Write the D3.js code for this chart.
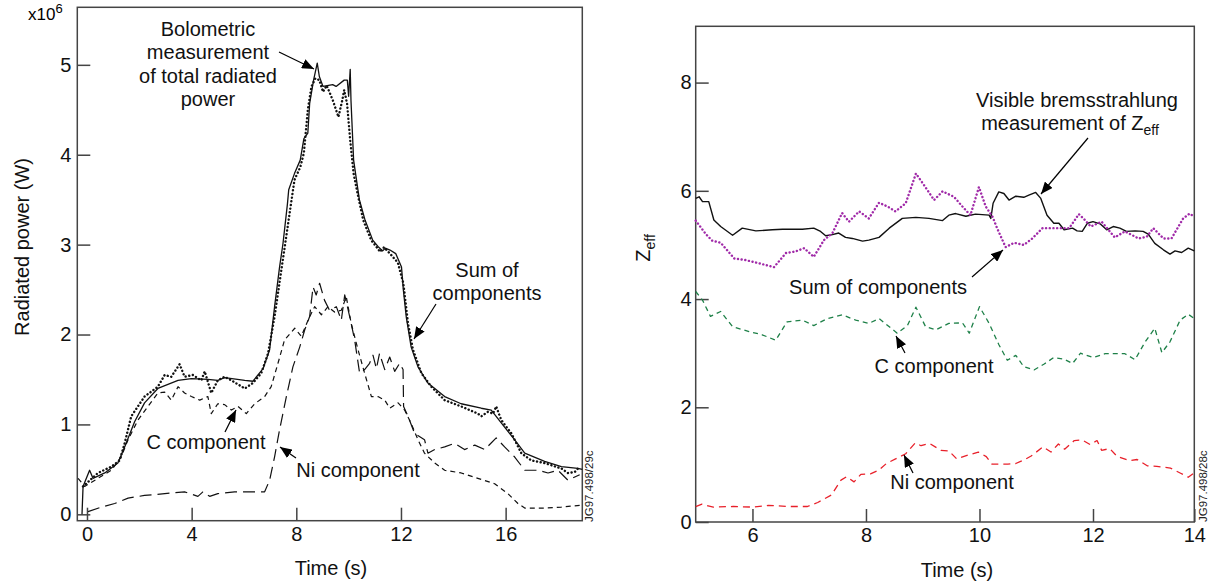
<!doctype html>
<html lang="en">
<head>
	<meta charset="UTF-8">
	<title>Radiated power and Zeff</title>
	<style>
		body { margin: 0; background: #fff; }
		svg { display: block; font-family: "Liberation Sans", Arial, sans-serif; }
		.tick text { font-size: 20px; fill: #111; }
		.tick line { stroke: #444; stroke-width: 1.5; }
		.lbl { font-size: 20px; fill: #111; }
	</style>
</head>
<body>
	<script src="https://cdn.jsdelivr.net/npm/d3@7/dist/d3.min.js"></script>
	<script>
		// ---- left panel: radiated power (x10^6 W) vs time (s)
		var bolometric = [[-0.19,0.0],[-0.15,0.31],[0.1,0.49],[0.23,0.40],[0.68,0.46],[1.18,0.57],[1.44,0.75],[1.82,1.03],[2.2,1.24],[2.71,1.40],[3.48,1.49],[3.99,1.51],[4.62,1.50],[5.0,1.49],[5.26,1.52],[6.03,1.49],[6.34,1.48],[6.73,1.62],[6.98,1.83],[7.17,2.31],[7.36,2.75],[7.49,3.01],[7.66,3.45],[7.71,3.61],[7.93,3.79],[8.15,3.94],[8.29,4.18],[8.44,4.24],[8.51,4.57],[8.66,4.83],[8.8,5.02],[8.88,4.87],[9.02,4.76],[9.39,4.78],[9.52,4.76],[9.83,4.83],[9.95,4.83],[10.0,4.65],[10.06,4.95],[10.09,4.6],[10.19,3.94],[10.34,3.64],[10.41,3.5],[10.63,3.27],[10.92,3.05],[11.12,2.98],[11.3,2.93],[11.4,2.96],[11.58,2.94],[11.8,2.90],[12.02,2.75],[12.09,2.5],[12.2,2.2],[12.39,1.86],[12.65,1.64],[13.03,1.46],[13.67,1.31],[14.3,1.23],[15.07,1.18],[15.45,1.16],[15.96,0.97],[16.34,0.83],[16.73,0.68],[17.49,0.59],[18.13,0.53],[18.76,0.51],[18.93,0.5]];
		var sumPower = [[-0.15,0.31],[0.42,0.46],[0.93,0.53],[1.25,0.6],[1.44,0.79],[1.69,1.09],[2.2,1.31],[2.71,1.42],[2.97,1.55],[3.22,1.53],[3.54,1.67],[3.73,1.53],[4.05,1.55],[4.37,1.49],[4.5,1.59],[4.75,1.35],[5.0,1.49],[5.26,1.53],[5.52,1.49],[6.03,1.40],[6.34,1.46],[6.66,1.57],[6.92,1.79],[7.17,2.2],[7.43,2.72],[7.56,2.98],[7.93,3.72],[8.15,3.86],[8.29,4.02],[8.44,4.5],[8.58,4.76],[8.73,4.85],[8.88,4.83],[9.02,4.70],[9.16,4.77],[9.39,4.61],[9.61,4.42],[9.76,4.61],[9.83,4.72],[9.94,4.57],[10.06,4.16],[10.19,3.79],[10.34,3.57],[10.56,3.27],[10.86,3.05],[11.05,2.98],[11.2,2.92],[11.35,2.97],[11.58,2.90],[11.88,2.8],[12.09,2.57],[12.14,2.45],[12.27,2.12],[12.46,1.83],[12.78,1.57],[13.16,1.42],[13.67,1.27],[14.3,1.2],[14.94,1.12],[15.07,1.09],[15.32,1.14],[15.52,1.12],[15.64,1.2],[15.83,1.05],[16.22,0.9],[16.6,0.68],[16.98,0.6],[17.49,0.57],[18.13,0.51],[18.38,0.46],[18.64,0.47],[18.83,0.53]];
		var cPower = [[-0.34,0.40],[-0.09,0.31],[0.42,0.40],[0.93,0.49],[1.31,0.64],[1.57,0.83],[1.95,1.05],[2.33,1.20],[2.71,1.35],[2.97,1.36],[3.22,1.27],[3.48,1.42],[3.73,1.35],[3.99,1.31],[4.31,1.27],[4.62,1.31],[4.75,1.12],[5.0,1.23],[5.26,1.22],[5.52,1.16],[5.77,1.2],[6.09,1.12],[6.41,1.23],[6.79,1.31],[7.04,1.42],[7.3,1.68],[7.55,1.94],[7.94,2.07],[8.19,1.98],[8.45,2.16],[8.7,2.31],[8.96,2.22],[9.21,2.31],[9.46,2.25],[9.72,2.27],[9.91,2.42],[10.1,2.12],[10.36,1.83],[10.61,1.57],[10.87,1.31],[11.12,1.31],[11.38,1.27],[11.57,1.18],[11.89,1.24],[12.14,1.16],[12.39,1.01],[12.65,0.83],[12.9,0.68],[13.29,0.57],[13.67,0.49],[14.3,0.46],[14.94,0.40],[15.58,0.34],[16.09,0.23],[16.47,0.12],[16.73,0.07],[17.49,0.07],[18.13,0.08],[18.83,0.10]];
		var niPower = [[0.04,0.03],[0.55,0.08],[1.06,0.12],[1.57,0.18],[2.2,0.21],[2.97,0.23],[3.73,0.25],[4.24,0.20],[4.43,0.25],[4.69,0.20],[5.0,0.23],[5.64,0.25],[6.28,0.25],[6.79,0.25],[6.98,0.38],[7.17,0.64],[7.36,0.94],[7.62,1.31],[7.87,1.64],[8.13,1.86],[8.32,2.05],[8.51,2.2],[8.64,2.53],[8.76,2.44],[8.89,2.57],[9.08,2.38],[9.27,2.27],[9.53,2.31],[9.72,2.16],[9.85,2.44],[10.04,2.2],[10.23,1.94],[10.42,1.57],[10.61,1.61],[10.8,1.68],[10.93,1.77],[11.06,1.62],[11.18,1.79],[11.38,1.61],[11.57,1.75],[11.76,1.59],[11.95,1.68],[12.08,1.61],[12.1,1.2],[12.27,1.09],[12.52,0.9],[12.9,0.83],[13.03,0.68],[13.29,0.72],[13.67,0.75],[14.05,0.79],[14.43,0.72],[14.82,0.77],[15.2,0.72],[15.64,0.85],[15.96,0.75],[16.34,0.64],[16.73,0.49],[17.24,0.49],[17.62,0.46],[18.0,0.49],[18.38,0.38],[18.83,0.44]];
		var powerXTicks = [0, 4, 8, 12, 16];
		var powerYTicks = [0, 1, 2, 3, 4, 5];

		// ---- right panel: Zeff vs time (s)
		var zeffBrems = [[5.0,5.86],[5.06,5.89],[5.12,5.80],[5.23,5.80],[5.32,5.46],[5.44,5.34],[5.65,5.18],[5.82,5.31],[6.06,5.26],[6.35,5.28],[6.53,5.29],[6.88,5.29],[7.08,5.31],[7.2,5.25],[7.29,5.17],[7.41,5.19],[7.52,5.22],[7.64,5.14],[7.76,5.12],[7.94,5.07],[8.05,5.09],[8.23,5.14],[8.41,5.31],[8.64,5.49],[8.88,5.51],[9.11,5.49],[9.35,5.45],[9.46,5.55],[9.58,5.58],[9.76,5.53],[9.93,5.57],[10.17,5.55],[10.2,5.49],[10.24,5.77],[10.34,5.98],[10.43,5.95],[10.52,5.83],[10.64,5.90],[10.78,5.88],[10.87,5.92],[10.99,5.97],[11.08,5.86],[11.19,5.55],[11.31,5.40],[11.4,5.40],[11.49,5.28],[11.64,5.31],[11.72,5.26],[11.81,5.25],[11.9,5.40],[12.0,5.43],[12.14,5.39],[12.27,5.28],[12.4,5.34],[12.53,5.31],[12.66,5.25],[12.83,5.26],[12.99,5.25],[13.09,5.20],[13.22,5.03],[13.39,4.91],[13.52,4.83],[13.62,4.89],[13.75,4.86],[13.88,4.94],[14.0,4.89]];
		var zeffSum = [[5.0,5.45],[5.18,5.20],[5.29,5.08],[5.44,5.04],[5.68,4.75],[5.88,4.72],[6.12,4.66],[6.38,4.59],[6.59,4.85],[6.76,4.88],[6.91,4.94],[7.08,4.78],[7.26,5.09],[7.41,5.22],[7.58,5.59],[7.7,5.43],[7.88,5.62],[8.05,5.49],[8.23,5.78],[8.38,5.71],[8.52,5.62],[8.7,5.77],[8.88,6.32],[9.02,6.11],[9.2,5.83],[9.35,5.99],[9.55,5.89],[9.7,5.71],[9.84,5.55],[9.99,6.07],[10.11,5.71],[10.23,5.52],[10.31,5.31],[10.46,4.96],[10.61,5.04],[10.78,5.00],[10.93,5.12],[11.11,5.31],[11.34,5.31],[11.58,5.31],[11.66,5.43],[11.75,5.57],[11.84,5.48],[11.96,5.34],[12.17,5.43],[12.43,5.14],[12.63,5.25],[12.9,5.12],[13.06,5.15],[13.19,5.31],[13.39,5.12],[13.55,5.12],[13.78,5.49],[13.91,5.58],[14.0,5.52]];
		var zeffC = [[5.0,4.14],[5.12,3.98],[5.26,3.68],[5.44,3.77],[5.65,3.49],[5.94,3.40],[6.17,3.34],[6.41,3.24],[6.61,3.58],[6.88,3.61],[7.08,3.51],[7.32,3.64],[7.58,3.71],[7.82,3.61],[8.05,3.55],[8.23,3.64],[8.55,3.37],[8.73,3.51],[8.88,3.85],[9.05,3.49],[9.23,3.43],[9.46,3.55],[9.7,3.56],[9.82,3.37],[10.0,3.86],[10.17,3.55],[10.34,3.16],[10.49,2.87],[10.64,2.96],[10.78,2.75],[10.96,2.69],[11.14,2.80],[11.31,2.92],[11.49,2.89],[11.64,2.81],[11.78,3.0],[12.0,2.92],[12.24,2.99],[12.63,2.99],[12.83,2.88],[13.03,3.21],[13.22,3.46],[13.36,3.01],[13.52,3.21],[13.72,3.61],[13.88,3.72],[14.0,3.64]];
		var zeffNi = [[5.0,0.27],[5.11,0.31],[5.31,0.26],[5.66,0.27],[6.01,0.26],[6.28,0.29],[6.63,0.27],[6.97,0.27],[7.15,0.34],[7.39,0.47],[7.56,0.73],[7.66,0.79],[7.79,0.70],[7.91,0.83],[8.08,0.84],[8.22,0.90],[8.36,1.02],[8.56,1.12],[8.7,1.19],[8.87,1.38],[8.97,1.33],[9.12,1.37],[9.32,1.25],[9.46,1.24],[9.6,1.10],[9.81,1.17],[9.98,1.22],[10.12,1.14],[10.22,1.01],[10.5,1.01],[10.64,1.02],[10.78,1.08],[10.91,1.15],[11.12,1.31],[11.26,1.22],[11.39,1.36],[11.5,1.27],[11.67,1.42],[11.81,1.43],[11.95,1.35],[12.08,1.42],[12.17,1.25],[12.33,1.28],[12.48,1.14],[12.72,1.07],[12.87,1.09],[13.07,0.98],[13.26,0.97],[13.53,0.94],[13.73,0.85],[13.88,0.78],[14.0,0.86]];
		var zeffXTicks = [6, 8, 10, 12, 14];
		var zeffYTicks = [0, 2, 4, 6, 8];

		var W = 1214, H = 586;
		var svg = d3.select('body').append('svg')
			.attr('width', W)
			.attr('height', H);

		svg.append('defs').append('marker')
			.attr('id', 'head')
			.attr('markerUnits', 'userSpaceOnUse')
			.attr('viewBox', '0 0 12 10')
			.attr('refX', 12).attr('refY', 5)
			.attr('markerWidth', 12).attr('markerHeight', 10)
			.attr('orient', 'auto')
			.append('path')
			.attr('d', 'M0,0L12,5L0,10z')
			.attr('fill', '#000');

		// draws frame, axes and returns the group
		function panel(x, y, xTicks, yTicks, xPad, yPad) {
			var g = svg.append('g');
			var x0 = x.range()[0], x1 = x.range()[x.range().length - 1];
			var y0 = y.range()[y.range().length - 1], y1 = y.range()[0];
			var fmt = d3.format('d');

			g.append('g')
				.attr('transform', 'translate(0,' + y1 + ')')
				.call(d3.axisBottom(x).tickValues(xTicks).tickFormat(fmt).tickSize(-13).tickPadding(xPad))
				.call(function(a) { a.select('.domain').remove(); });
			g.append('g')
				.attr('transform', 'translate(' + x0 + ',0)')
				.call(d3.axisLeft(y).tickValues(yTicks).tickFormat(fmt).tickSize(-13).tickPadding(yPad))
				.call(function(a) { a.select('.domain').remove(); });

			g.append('rect')
				.attr('x', x0).attr('y', y0)
				.attr('width', x1 - x0).attr('height', y1 - y0)
				.attr('fill', 'none')
				.attr('stroke', '#444')
				.attr('stroke-width', 1.5);
			return g;
		}

		function series(g, data, x, y, stroke, width, dash, cap) {
			var line = d3.line()
				.x(function(d) { return x(d[0]); })
				.y(function(d) { return y(d[1]); });
			g.append('path')
				.datum(data)
				.attr('d', line)
				.attr('fill', 'none')
				.attr('stroke', stroke)
				.attr('stroke-width', width)
				.attr('stroke-dasharray', dash)
				.attr('stroke-linecap', cap || 'butt')
				.attr('stroke-linejoin', 'round');
		}

		function label(lines, cx, baseline, step) {
			var t = svg.append('text')
				.attr('class', 'lbl')
				.attr('text-anchor', 'middle');
			lines.forEach(function(s, i) {
				t.append('tspan').attr('x', cx).attr('y', baseline + i * step).text(s);
			});
			return t;
		}

		function arrow(a, b) {
			svg.append('line')
				.attr('x1', a[0]).attr('y1', a[1])
				.attr('x2', b[0]).attr('y2', b[1])
				.attr('stroke', '#000')
				.attr('stroke-width', 1.2)
				.attr('marker-end', 'url(#head)');
		}

		// ---- left panel
		var xP = d3.scaleLinear().domain([-0.37, 18.93]).range([77.3, 582.3]);
		var yP = d3.scaleLinear().domain([-0.071, 5.64]).range([520.7, 7.3]);
		var gl = panel(xP, yP, powerXTicks, powerYTicks, 6, 6);

		series(gl, cPower, xP, yP, '#111', 1.2, '5,4');
		series(gl, niPower, xP, yP, '#111', 1.2, '12,6');
		series(gl, bolometric, xP, yP, '#111', 1.3, null);
		series(gl, sumPower, xP, yP, '#111', 2.4, '0.1,3.6', 'round');

		svg.append('text')
			.attr('x', 28).attr('y', 20)
			.attr('font-size', 17)
			.text('x10')
			.append('tspan').attr('dy', -7).attr('font-size', 13).text('6');

		svg.append('text')
			.attr('class', 'lbl')
			.attr('text-anchor', 'middle')
			.attr('transform', 'translate(29,247) rotate(-90)')
			.text('Radiated power (W)');
		label(['Time (s)'], 331, 575, 0);

		label(['Bolometric', 'measurement', 'of total radiated', 'power'], 208, 36, 23.4);
		arrow([279, 52], [314, 69]);
		label(['Sum of', 'components'], 487, 277, 23.4);
		arrow([436, 304], [414, 339]);
		label(['C component'], 206, 449, 0);
		arrow([225, 432], [236, 410]);
		label(['Ni component'], 358, 477, 0);
		arrow([296, 458], [280, 447]);

		svg.append('text')
			.attr('font-size', 11.5)
			.attr('fill', '#222')
			.attr('transform', 'translate(593,522) rotate(-90)')
			.text('JG97.498/29c');

		// ---- right panel (axis of the original is slightly uneven, so the
		// scales pass through the printed tick positions)
		var xZ = d3.scaleLinear().domain([5, 12, 14]).range([695.7, 1093, 1194.3]);
		var yZ = d3.scaleLinear().domain([0, 2, 9.04]).range([522, 407.3, 26.3]);
		var gr = panel(xZ, yZ, zeffXTicks, zeffYTicks, 6, 4);

		series(gr, zeffC, xZ, yZ, '#1e8048', 1.3, '5,4');
		series(gr, zeffNi, xZ, yZ, '#e8202a', 1.3, '7,5');
		series(gr, zeffBrems, xZ, yZ, '#111', 1.4, null);
		series(gr, zeffSum, xZ, yZ, '#a02aa8', 2.4, '0.1,3.6', 'round');

		var zl = svg.append('text')
			.attr('class', 'lbl')
			.attr('text-anchor', 'middle')
			.attr('transform', 'translate(650,248) rotate(-90)');
		zl.append('tspan').text('Z');
		zl.append('tspan').attr('dy', 5).attr('font-size', 14).text('eff');
		label(['Time (s)'], 957, 577, 0);

		label(['Visible bremsstrahlung'], 1077, 107, 0);
		var ml = label(['measurement of Z'], 1070, 130, 0);
		ml.select('tspan')
			.append('tspan').attr('dy', 5).attr('font-size', 14).text('eff');
		arrow([1088, 138], [1041, 194]);
		label(['Sum of components'], 878, 294, 0);
		arrow([972, 277], [1003, 250]);
		label(['C component'], 934, 373, 0);
		arrow([905, 353], [896, 336]);
		label(['Ni component'], 952, 489, 0);
		arrow([913, 473], [904, 455]);

		svg.append('text')
			.attr('font-size', 11.5)
			.attr('fill', '#222')
			.attr('transform', 'translate(1207,522) rotate(-90)')
			.text('JG97.498/28c');
	</script>
</body>
</html>
